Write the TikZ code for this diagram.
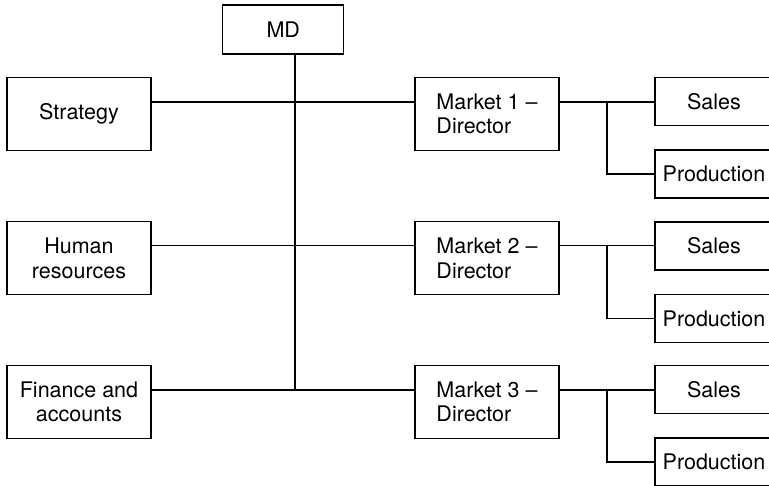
\documentclass[tikz,border=0pt]{standalone}
\usepackage{fontspec}
\setmainfont{TeX Gyre Heros}
\begin{document}
\begin{tikzpicture}[x=1pt,y=-1pt,
  every node/.style={font=\fontsize{21.5}{24.5}\selectfont},
  box/.style={draw,line width=1.1pt,inner sep=0pt,outer sep=0pt,align=center},
  unit/.style={box,minimum width=144pt,minimum height=73pt},
  sub/.style={box,minimum width=118pt,minimum height=48pt},
  link/.style={line width=1.1pt}]
\useasboundingbox (0,0) rectangle (769,486);
\clip (0,0) rectangle (769,486);
% top
\node[box,minimum width=121pt,minimum height=49pt] (md) at (283.3,29.5) {MD};
% left column
\node[unit] (s1) at (79,113.8) {Strategy};
\node[unit] (s2) at (79,258.3) {Human\\resources};
\node[unit] (s3) at (79,402) {Finance and\\accounts};
% markets
\node[unit,align=left] (m1) at (487,113.8) {Market 1 --\\Director};
\node[unit,align=left] (m2) at (487,258.3) {Market 2 --\\Director};
\node[unit,align=left] (m3) at (487,402) {Market 3 --\\Director};
% sales and production
\node[sub] (a1) at (714,101.8) {Sales};
\node[sub] (p1) at (714,174) {Production};
\node[sub] (a2) at (714,246) {Sales};
\node[sub] (p2) at (714,318.5) {Production};
\node[sub] (a3) at (714,389.5) {Sales};
\node[sub] (p3) at (714,462) {Production};
% row line levels
\coordinate (r1) at (295,102);
\coordinate (r2) at (295,245.7);
\coordinate (r3) at (295,390);
\coordinate (j1) at (607,102);
\coordinate (j2) at (607,245.7);
\coordinate (j3) at (607,390);
% spine
\draw[link] (md.south -| r1) -- (r3);
\foreach \i in {1,2,3}{
  \draw[link] (s\i.east |- r\i) -- (m\i.west |- r\i);
  \draw[link] (m\i.east |- j\i) -- (a\i.west |- j\i);
  \draw[link] (j\i) |- (p\i.west);
}
\end{tikzpicture}
\end{document}
